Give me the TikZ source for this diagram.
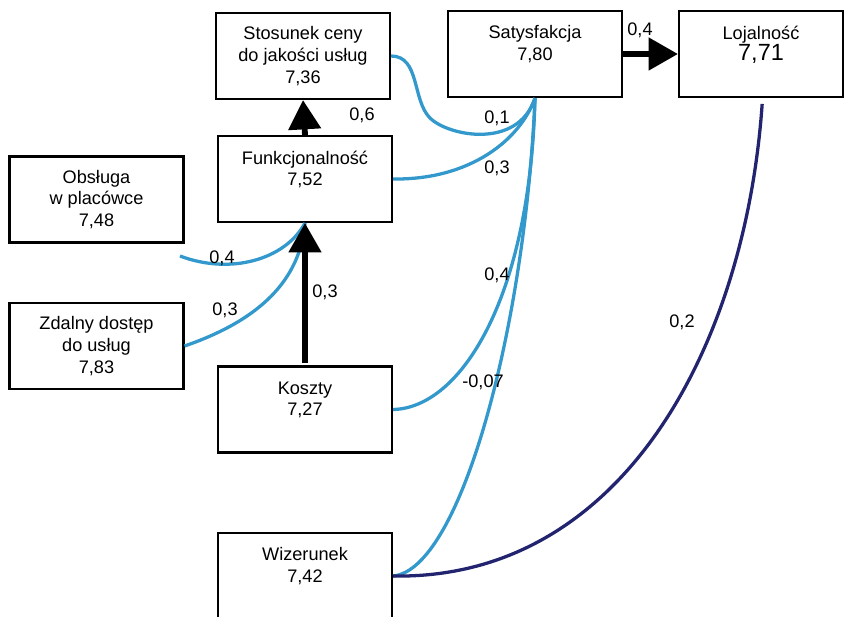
\documentclass[tikz,border=0pt]{standalone}
\usepackage{fontspec}
\setmainfont{Liberation Sans}
\usepackage{tikz}
\usetikzlibrary{arrows.meta}
\definecolor{pathblue}{HTML}{3399CC}
\definecolor{pathnavy}{HTML}{23246F}
\tikzstyle{factor}=[draw, line width=1.8pt, minimum width=5.22cm, minimum height=2.58cm, align=center, inner sep=0pt, font=\fontsize{15.5}{18.5}\selectfont]
\tikzstyle{weight}=[inner sep=1pt, font=\fontsize{15.5}{18.5}\selectfont]
\tikzstyle{effect}=[line width=2.8pt, pathblue]
\tikzstyle{strong}=[line width=5pt, -{Triangle[width=27pt,length=25pt]}]

\begin{document}
\begin{tikzpicture}[x=0.03cm, y=-0.03cm]
        \useasboundingbox (0,0) rectangle (844,616);
        % boxes
        \node[factor] (stos) at (303,56) {Stosunek ceny\\do jakości usług\\7,36};
        \node[factor] (funk) at (305,179) {Funkcjonalność\\7,52\\\mbox{}};
        \node[factor] (sat) at (535,54) {Satysfakcja\\7,80\\\mbox{}};
        \node[factor, minimum width=4.92cm] (loj) at (761,54) {Lojalność\\{\fontsize{20}{22}\selectfont 7,71}\\\mbox{}};
        \node[factor] (obs) at (96.5,199.5) {Obsługa\\w placówce\\7,48};
        \node[factor] (zdal) at (96.5,346) {Zdalny dostęp\\do usług\\7,83};
        \node[factor] (kosz) at (305,409.5) {Koszty\\7,27\\\mbox{}};
        \node[factor] (wiz) at (305,576) {Wizerunek\\7,42\\\mbox{}};
        \coordinate (obsout) at (180,256);
        % paths
        \draw[effect] (stos.east) .. controls (420,56) and (412,100) .. (430,118) .. controls (448,136) and (518,150) .. (sat.south);
        \draw[effect] (funk.east) .. controls (470,180) and (520,140) .. (sat.south);
        \draw[effect] (kosz.east) .. controls (460,408) and (530,300) .. (sat.south);
        \draw[effect] (wiz.east) .. controls (460,570) and (525,330) .. (sat.south);
        \draw[line width=2.8pt, pathnavy] (wiz.east) .. controls (620,580) and (745,350) .. ([xshift=1pt,yshift=-5pt]loj.south);
        \draw[effect] (obsout) .. controls (230,275) and (285,260) .. (funk.south);
        \draw[effect] (zdal.east) .. controls (260,320) and (300,280) .. (funk.south);
        \draw[strong] (funk.north) -- (stos.south);
        \draw[strong] ([yshift=2pt]kosz.north) -- (funk.south);
        \draw[strong] (sat.east) -- (loj.west);
        % weights
        \node[weight] (w1) at (362,115) {0,6};
        \node[weight] (w2) at (497,118) {0,1};
        \node[weight] (w3) at (497,168) {0,3};
        \node[weight] (w4) at (640,30) {0,4};
        \node[weight] (w5) at (222,258) {0,4};
        \node[weight] (w6) at (225,310) {0,3};
        \node[weight] (w7) at (325,292) {0,3};
        \node[weight] (w8) at (497,275) {0,4};
        \node[weight] (w9) at (483,382) {-0,07};
        \node[weight] (w10) at (682,322) {0,2};
    \end{tikzpicture}
\end{document}
